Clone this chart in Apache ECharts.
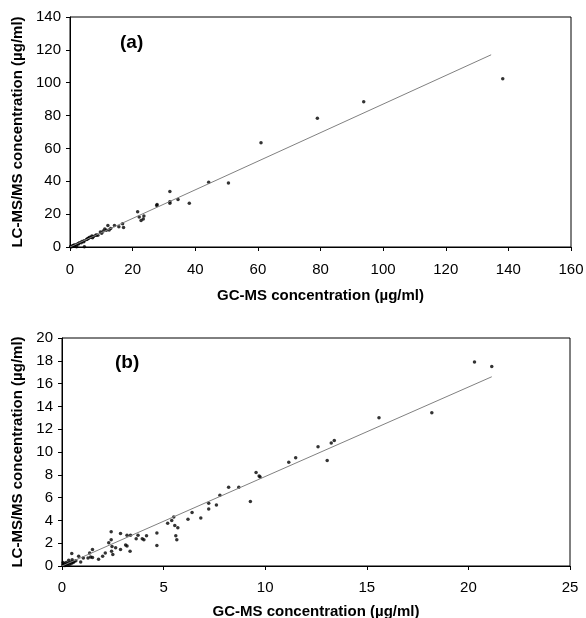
<!DOCTYPE html>
<html>
<head>
<meta charset="utf-8">
<script src="https://cdn.jsdelivr.net/npm/echarts@6/dist/echarts.min.js"></script>
<style>
  html, body { margin: 0; padding: 0; background: #fff; }
  #chart { width: 586px; height: 618px; }
</style>
</head>
<body>
<div id="chart"></div>
<script>
// panel (a): GC-MS vs LC-MS/MS, ug/ml
const pointsA = [
  [138.2, 102.4], [93.8, 88.4], [79.0, 78.3], [61.0, 63.5],
  [44.3, 39.4], [50.6, 39.0], [38.1, 26.7], [34.5, 28.9],
  [31.9, 33.8], [31.9, 27.5], [31.9, 26.7], [27.8, 25.9], [27.7, 25.3],
  [21.6, 21.4], [22.1, 18.2], [22.7, 16.2], [23.6, 18.8], [23.4, 17.0],
  [16.8, 14.2], [17.1, 11.9], [15.6, 12.3], [14.2, 13.1], [12.1, 13.1],
  [13.0, 11.3], [11.1, 10.9], [10.6, 9.7], [9.7, 9.1], [10.1, 8.3],
  [8.9, 7.1], [8.2, 7.1], [7.0, 6.7], [7.2, 5.7], [6.3, 5.9], [5.8, 5.1],
  [5.3, 4.5], [4.4, 3.2], [3.6, 2.6], [2.7, 1.8], [2.0, 1.4], [1.4, 0.8],
  [4.6, 0.2], [2.1, 0.1], [0.3, 0.3], [0.6, 0.5], [1.0, 0.8], [0.2, 0.1],
  [0.5, 0.2], [1.5, 1.2], [2.5, 2.0], [3.0, 2.6], [3.8, 3.3], [4.5, 3.8],
  [5.5, 4.8], [6.0, 5.5], [6.8, 6.0], [7.5, 6.4], [8.5, 7.3], [12.5, 10.4],
  [11.6, 10.2], [0.8, 0.4], [1.2, 1.1]
];
const lineA = [[0, 0], [134.5, 117]];

// panel (b): low concentration range
const pointsB = [
  [20.3, 17.9], [21.15, 17.5], [18.2, 13.45], [15.6, 13.0], [12.6, 10.45],
  [13.05, 9.25], [13.25, 10.8], [13.4, 11.0], [11.16, 9.1], [11.5, 9.5],
  [9.55, 8.2], [9.7, 7.9], [9.75, 7.8], [9.27, 5.65], [8.2, 6.9], [8.7, 6.9],
  [7.77, 6.2], [7.6, 5.35], [7.22, 5.5], [7.22, 5.0], [6.83, 4.2], [6.4, 4.7],
  [6.2, 4.1], [5.5, 4.3], [5.4, 4.0], [5.2, 3.75], [5.55, 3.55], [5.7, 3.35],
  [5.6, 2.65], [5.65, 2.3], [4.67, 2.9], [4.67, 1.8], [4.16, 2.65], [4.03, 2.3],
  [3.95, 2.4], [3.74, 2.7], [3.65, 2.4], [3.37, 2.7], [3.2, 2.7], [3.13, 1.85],
  [3.2, 1.75], [3.35, 1.3], [2.88, 2.85], [2.88, 1.45], [2.64, 1.6], [2.42, 3.0],
  [2.42, 2.3], [2.3, 2.05], [2.46, 1.7], [2.44, 1.3], [2.5, 1.0], [2.13, 1.15],
  [2.0, 0.85], [1.8, 0.6], [1.5, 1.45], [1.36, 1.15], [1.41, 0.8], [1.5, 0.75],
  [1.28, 0.7], [1.05, 0.7], [0.82, 0.85], [0.92, 0.35], [0.68, 0.45], [0.5, 0.55],
  [0.48, 1.1], [0.33, 0.5], [0.05, 0.1], [0.1, 0.2], [0.15, 0.05], [0.2, 0.3],
  [0.25, 0.15], [0.3, 0.25], [0.35, 0.1], [0.4, 0.3], [0.45, 0.2], [0.5, 0.35],
  [0.55, 0.3], [0.6, 0.4], [0.05, 0.3], [0.1, 0.05], [0.2, 0.1]
];
const lineB = [[0, 0], [21.15, 16.6]];

const xTitle = 'GC-MS concentration (µg/ml)';
const yTitle = 'LC-MS/MS concentration (µg/ml)';
const FONT = '"Liberation Sans", Arial, sans-serif';

function axisStyle(extra, labelMargin) {
  return Object.assign({
    type: 'value',
    nameLocation: 'middle',
    nameTextStyle: { fontFamily: FONT, fontSize: 15, fontWeight: 'bold', color: '#000' },
    axisLine: { show: true, onZero: false, lineStyle: { color: '#000', width: 1 } },
    axisTick: { show: true, inside: false, length: 4, lineStyle: { color: '#000' } },
    axisLabel: { fontFamily: FONT, fontSize: 15, color: '#000', margin: labelMargin },
    splitLine: { show: false }
  }, extra);
}

const titleStyle = { fontFamily: FONT, fontSize: 19, fontWeight: 'bold', color: '#000' };

const chart = echarts.init(document.getElementById('chart'), null, { renderer: 'canvas' });

chart.setOption({
  animation: false,
  backgroundColor: '#fff',
  title: [
    { text: '(a)', left: 120, top: 33, padding: 0, textStyle: titleStyle },
    { text: '(b)', left: 115, top: 353, padding: 0, textStyle: titleStyle }
  ],
  grid: [
    { left: 70, right: 15, top: 17, height: 230, show: true, borderColor: '#000', borderWidth: 1, outerBoundsMode: 'none' },
    { left: 62, right: 16, top: 338, height: 228, show: true, borderColor: '#000', borderWidth: 1, outerBoundsMode: 'none' }
  ],
  xAxis: [
    axisStyle({ gridIndex: 0, min: 0, max: 160, interval: 20, name: xTitle, nameGap: 41 }, 15),
    axisStyle({ gridIndex: 1, min: 0, max: 25, interval: 5, name: xTitle, nameGap: 38 }, 14)
  ],
  yAxis: [
    axisStyle({ gridIndex: 0, min: 0, max: 140, interval: 20, name: yTitle, nameGap: 44 }, 9),
    axisStyle({ gridIndex: 1, min: 0, max: 20, interval: 2, name: yTitle, nameGap: 37 }, 9)
  ],
  series: [
    {
      type: 'line', xAxisIndex: 0, yAxisIndex: 0, data: lineA, symbol: 'none',
      lineStyle: { color: '#808080', width: 1 }, silent: true
    },
    {
      type: 'scatter', xAxisIndex: 0, yAxisIndex: 0, data: pointsA,
      symbol: 'circle', symbolSize: 3.5, itemStyle: { color: '#000' }
    },
    {
      type: 'line', xAxisIndex: 1, yAxisIndex: 1, data: lineB, symbol: 'none',
      lineStyle: { color: '#808080', width: 1 }, silent: true
    },
    {
      type: 'scatter', xAxisIndex: 1, yAxisIndex: 1, data: pointsB,
      symbol: 'circle', symbolSize: 3.5, itemStyle: { color: '#000' }
    }
  ]
});
</script>
</body>
</html>
